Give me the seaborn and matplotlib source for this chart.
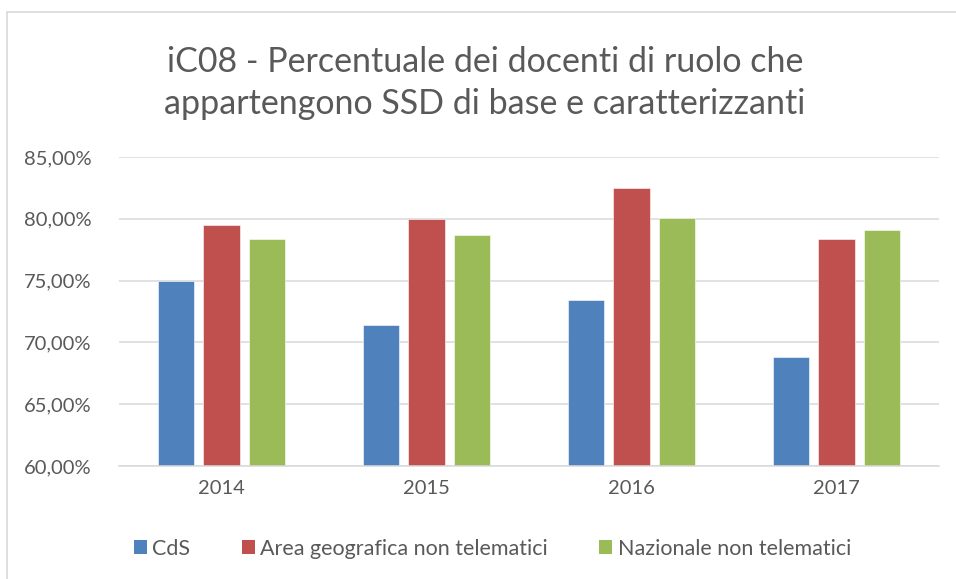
import pandas as pd
import matplotlib.pyplot as plt
import seaborn as sns
from matplotlib.patches import Patch
from matplotlib.ticker import FuncFormatter

# Data
years = ["2014", "2015", "2016", "2017"]
series_names = ["CdS", "Area geografica non telematici", "Nazionale non telematici"]
cds = [75.0, 71.4, 73.4, 68.8]
area = [79.5, 80.0, 82.5, 78.4]
nazionale = [78.4, 78.7, 80.1, 79.1]
colors = ["#4F81BD", "#C0504D", "#9BBB59"]
y_ticks = [60, 65, 70, 75, 80, 85]

TEXT = "#595959"
GRID = "#D9D9D9"


def build_frame():
    rows = []
    for name, values in zip(series_names, [cds, area, nazionale]):
        for year, v in zip(years, values):
            rows.append({"anno": year, "serie": name, "valore": v})
    return pd.DataFrame(rows)


def main():
    df = build_frame()
    sns.set_theme(style="white")
    plt.rcParams["font.family"] = ["Lato", "DejaVu Sans"]

    fig = plt.figure(figsize=(9.56, 5.79), dpi=100)
    ax = fig.add_axes([0.1245, 0.1952, 0.8577, 0.5336])

    sns.barplot(
        data=df, x="anno", y="valore", hue="serie",
        hue_order=series_names, palette=colors,
        width=0.666, gap=0.2, saturation=1,
        edgecolor="white", linewidth=0.4,
        legend=False, ax=ax,
    )

    ax.set_ylim(60, 85)
    ax.set_xlim(-0.5, 3.5)
    ax.set_yticks(y_ticks)
    ax.yaxis.set_major_formatter(FuncFormatter(lambda v, _: f"{v:.2f}".replace(".", ",") + "%"))
    ax.grid(axis="y", color=GRID, linewidth=1.1)
    ax.set_axisbelow(True)
    for side in ["top", "right", "left"]:
        ax.spines[side].set_visible(False)
    ax.spines["bottom"].set_color(GRID)
    ax.spines["bottom"].set_linewidth(1.1)
    ax.tick_params(axis="both", length=0, labelsize=14.5, labelcolor=TEXT)
    ax.tick_params(axis="y", pad=20)
    ax.tick_params(axis="x", pad=10)
    ax.set_xlabel("")
    ax.set_ylabel("")

    fig.text(0.507, 0.857,
             "iC08 - Percentuale dei docenti di ruolo che\nappartengono SSD di base e caratterizzanti",
             ha="center", va="center", fontsize=24.5, color=TEXT, linespacing=1.38)

    handles = [Patch(facecolor=c, edgecolor="none") for c in colors]
    fig.legend(handles, series_names, loc="center", bbox_to_anchor=(0.515, 0.052),
               ncol=3, frameon=False, fontsize=15.5, labelcolor=TEXT,
               handlelength=0.6, handleheight=0.6, handletextpad=0.25, columnspacing=2.4)

    # light outer frame of the chart area
    fig.add_artist(plt.Line2D([0.0073, 0.0073], [0, 1 - 12 / 579], color=GRID, linewidth=1.2))
    fig.add_artist(plt.Line2D([0.0073, 1], [1 - 12 / 579, 1 - 12 / 579], color=GRID, linewidth=1.2))

    fig.savefig("out.png", dpi=100)
    plt.close(fig)


if __name__ == "__main__":
    main()
